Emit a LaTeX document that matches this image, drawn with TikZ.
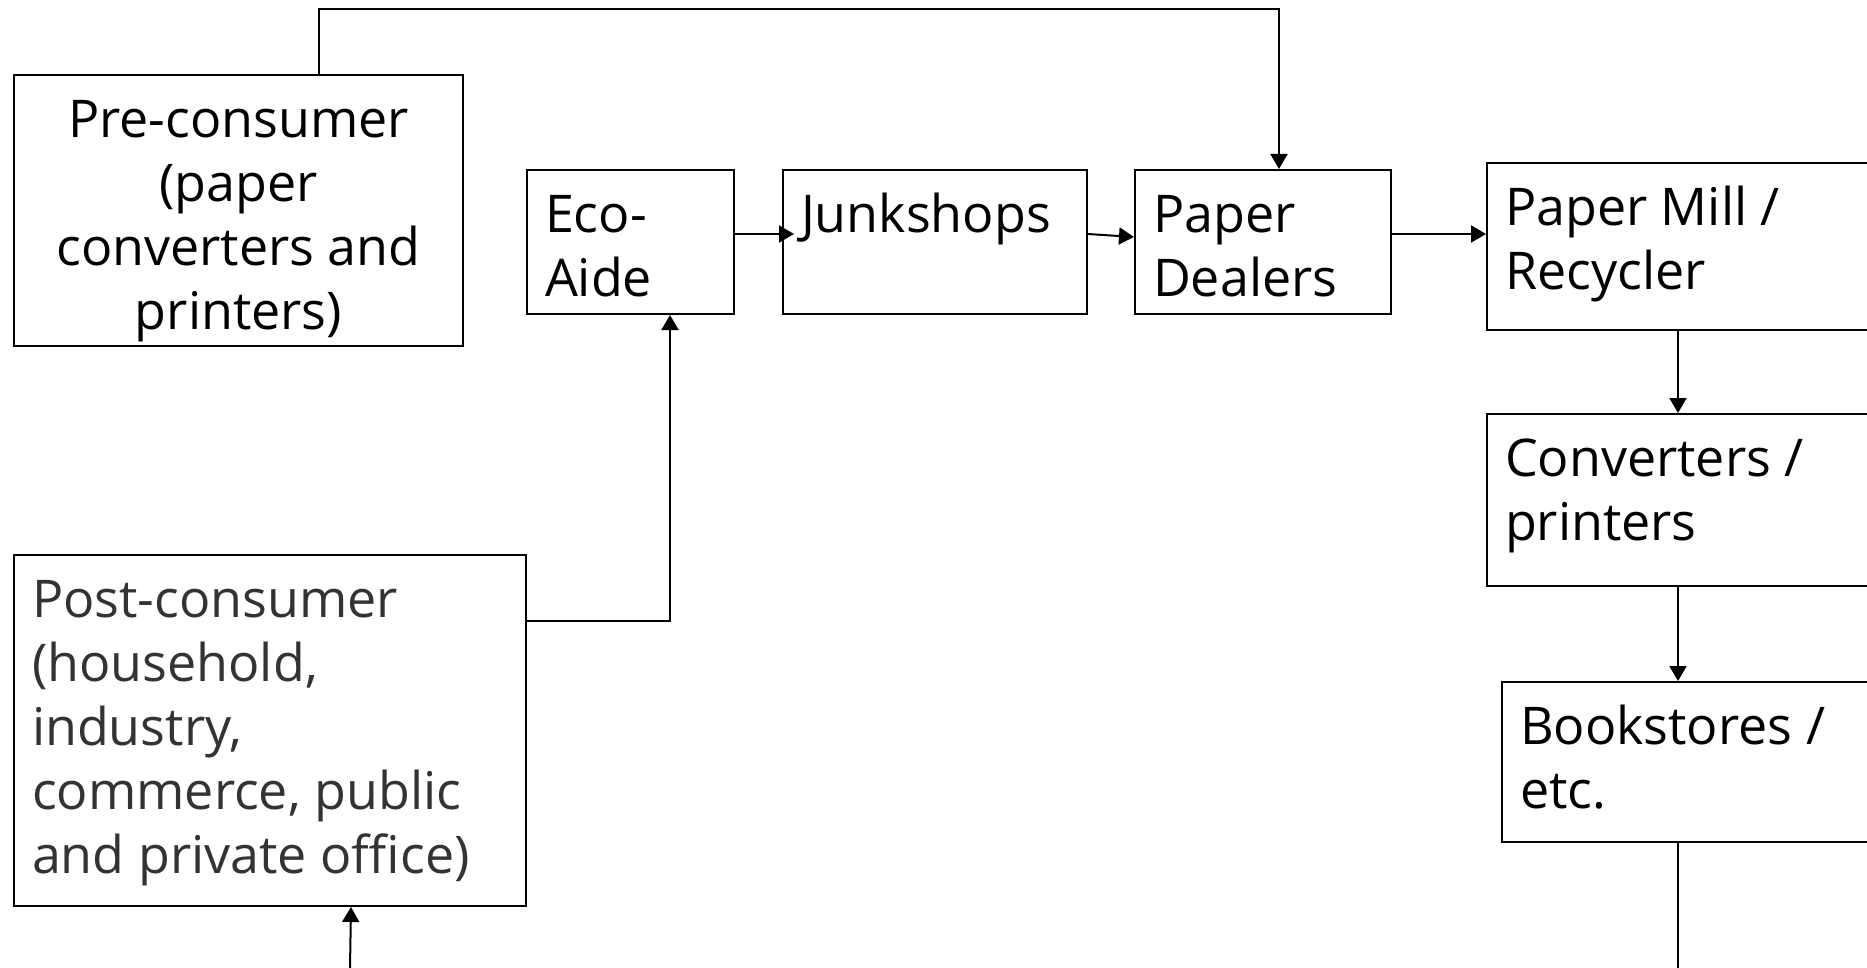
\documentclass[tikz,border=0pt]{standalone}
\usepackage{fontspec}
\setmainfont{Open Sans}
\usetikzlibrary{arrows.meta}

\newcommand*{\boxfont}{\fontsize{52}{64}\selectfont}
\newcommand*{\boxtext}[3]{\parbox[c][#2pt][t]{#1pt}{\raggedright\strut #3}}

\begin{document}
\begin{tikzpicture}
[
	x=1pt, y=-1pt,
	stage/.style={draw, line width=2pt, anchor=north west, inner sep=18pt, font=\boxfont},
	flow/.style={line width=2pt, -{Triangle[length=15pt,width=17pt]}},
	wire/.style={line width=2pt}
]
	\useasboundingbox (0,0) rectangle (1867,968);

	% sources
	\node[stage] (pre) at (13,74) {\parbox[c][235pt][t]{413pt}{\centering\strut Pre-consumer\\(paper\\converters and\\printers)}};
	\node[stage, text=black!80] (post) at (13,554) {\boxtext{476}{315}{Post-consumer\\(household,\\industry,\\commerce, public\\and private office)}};

	% collection chain
	\node[stage] (eco) at (526,169) {\boxtext{171}{108}{Eco-\\Aide}};
	\node[stage] (junk) at (782,169) {\boxtext{268}{108}{Junkshops}};
	\node[stage] (dealer) at (1134,169) {\boxtext{220}{108}{Paper\\Dealers}};

	% mill and after
	\node[stage] (mill) at (1486,162) {\boxtext{384}{131}{Paper Mill /\\Recycler}};
	\node[stage] (conv) at (1486,413) {\boxtext{384}{136}{Converters /\\printers}};
	\node[stage] (book) at (1501,681) {\boxtext{364}{124}{Bookstores /\\etc.}};

	\coordinate (spine) at (1678,968);
	\coordinate (postin) at (350,968);

	% connectors
	\draw[flow] ([xshift=80.5pt]pre.north) -- ++(0,-64.5) -| ([xshift=16pt]dealer.north);
	\draw[flow] ([yshift=109.5pt]post.east) -| ([xshift=39.5pt]eco.south);
	\draw[flow] (postin) -- ([xshift=81pt]post.south);
	\draw[flow] ([yshift=8pt]eco.east) -- ([xshift=12pt,yshift=8pt]junk.west);
	\draw[flow] ([yshift=8pt]junk.east) -- ([yshift=5pt]dealer.west);
	\draw[flow] ([yshift=8pt]dealer.east) -- ([yshift=8pt]dealer.east -| mill.west);
	\draw[flow] (mill.south -| spine) -- (conv.north -| spine);
	\draw[flow] (conv.south -| spine) -- (book.north -| spine);
	\draw[wire] (book.south -| spine) -- (spine);

\end{tikzpicture}
\end{document}
